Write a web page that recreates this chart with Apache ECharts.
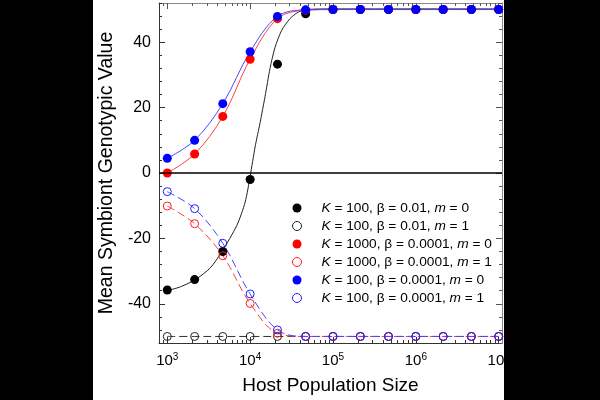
<!DOCTYPE html>
<html>
<head>
<meta charset="utf-8">
<script src="https://cdn.jsdelivr.net/npm/echarts@6/dist/echarts.min.js"></script>
<style>
  html, body { margin: 0; padding: 0; background: #fff; }
  #chart { width: 600px; height: 400px; }
</style>
</head>
<body>
<div id="chart"></div>
<script>
  // x values are log10(host population size)
  var logSize = [3, 3.33, 3.67, 4, 4.33, 4.67, 5, 5.33, 5.67, 6, 6.33, 6.67, 7];

  var seriesNames = [
    'K = 100, β = 0.01, m = 0',
    'K = 100, β = 0.01, m = 1',
    'K = 1000, β = 0.0001, m = 0',
    'K = 1000, β = 0.0001, m = 1',
    'K = 100, β = 0.0001, m = 0',
    'K = 100, β = 0.0001, m = 1'
  ];

  var blackFilled = [-35.8, -32.6, -24, -2, 33.3, 48.7, 50, 50, 50, 50, 50, 50, 50];
  var blackOpen   = [-50, -50, -50, -50, -50, -50, -50, -50, -50, -50, -50, -50, -50];
  var redFilled   = [0, 5.8, 17.3, 34.8, 47.2, 49.8, 50, 50, 50, 50, 50, 50, 50];
  var redOpen     = [-10.1, -15.5, -25.3, -39.9, -49, -50, -50, -50, -50, -50, -50, -50, -50];
  var blueFilled  = [4.5, 10, 21.2, 37.1, 47.9, 49.9, 50, 50, 50, 50, 50, 50, 50];
  var blueOpen    = [-5.7, -10.9, -21.5, -37, -48, -50, -50, -50, -50, -50, -50, -50, -50];

  // fitted curve for the black filled points
  var blackFitX = [3, 3.16, 3.34, 3.52, 3.66, 3.84, 3.94, 4.0, 4.06, 4.12, 4.18, 4.24, 4.30, 4.38, 4.48, 4.58, 4.68, 5, 6, 7];
  var blackFitY = [-36, -34.8, -32.6, -29, -24, -16, -8.9, -1, 8, 15.4, 23.4, 32, 38.4, 43.6, 47.2, 49.2, 50, 50.2, 50.2, 50.2];

  var xLabelExp = [3, 4, 5, 6, 7];
  var yLabels = [-40, -20, 0, 20, 40];

  var minorX = [];
  for (var d = 2; d <= 6; d++) {
    for (var k = 2; k <= 9; k++) {
      var v = Math.log10(k * Math.pow(10, d));
      if (v > 2.91 && v < 7.04) minorX.push(v);
    }
  }

  function pairs(xs, ys) {
    return xs.map(function (x, i) { return [x, ys[i]]; });
  }

  var font = 'Liberation Sans, Arial, sans-serif';
  var xMin = 2.9, xMax = 7.04;

  function xAxisBase(pos, lineColor) {
    return {
      type: 'value', position: pos, min: xMin, max: xMax,
      axisLine: { show: lineColor != null, onZero: false, lineStyle: { color: lineColor || '#000', width: 1 } },
      axisLabel: { show: false },
      splitLine: { show: false },
      axisTick: { show: false }
    };
  }
  function yAxisBase(pos, lineColor) {
    return {
      type: 'value', position: pos, min: -52, max: 52, interval: 4,
      axisLine: { show: lineColor != null, onZero: false, lineStyle: { color: lineColor || '#000', width: 1 } },
      axisLabel: { show: false },
      splitLine: { show: false },
      axisTick: { show: false }
    };
  }

  var xAxes = [xAxisBase('bottom', '#333'), xAxisBase('bottom'), xAxisBase('top', '#888'), xAxisBase('top')];
  xAxes[0].axisTick = { show: true, inside: true, length: 6, customValues: xLabelExp, lineStyle: { color: '#333' } };
  xAxes[0].axisLabel = {
    show: true, customValues: xLabelExp, margin: 9,
    formatter: function (v) { return '{b|10}{s|' + Math.round(v) + '}'; },
    rich: {
      b: { fontSize: 15, fontFamily: font, color: '#000' },
      s: { fontSize: 10, fontFamily: font, color: '#000', padding: [0, 0, 7, 0] }
    }
  };
  xAxes[0].name = 'Host Population Size';
  xAxes[0].nameLocation = 'middle';
  xAxes[0].nameGap = 33;
  xAxes[0].nameTextStyle = { fontSize: 19, fontFamily: font, color: '#000' };
  xAxes[1].axisTick = { show: true, inside: true, length: 3, customValues: minorX, lineStyle: { color: '#333' } };
  xAxes[2].axisTick = { show: true, inside: true, length: 6, customValues: xLabelExp, lineStyle: { color: '#555' } };
  xAxes[3].axisTick = { show: true, inside: true, length: 3, customValues: minorX, lineStyle: { color: '#555' } };

  var yAxes = [yAxisBase('left', '#333'), yAxisBase('left'), yAxisBase('right', '#888'), yAxisBase('right')];
  yAxes[0].axisTick = { show: true, inside: true, length: 3, lineStyle: { color: '#333' } };
  yAxes[0].axisLabel = {
    show: true, customValues: yLabels, margin: 8,
    fontSize: 16, fontFamily: font, color: '#000'
  };
  yAxes[0].name = 'Mean Symbiont Genotypic Value';
  yAxes[0].nameLocation = 'middle';
  yAxes[0].nameGap = 39;
  yAxes[0].nameTextStyle = { fontSize: 19.5, fontFamily: font, color: '#000' };
  yAxes[1].axisTick = { show: true, inside: true, length: 6, customValues: yLabels, lineStyle: { color: '#333' } };
  yAxes[2].axisTick = { show: true, inside: true, length: 3, lineStyle: { color: '#555' } };
  yAxes[3].axisTick = { show: true, inside: true, length: 6, customValues: yLabels, lineStyle: { color: '#555' } };

  function fitLine(data, color, dashed, smooth) {
    return {
      type: 'line', data: data, showSymbol: false, smooth: smooth || 0.35,
      lineStyle: { color: color, width: 1, type: dashed ? [8, 4] : 'solid' },
      silent: true, z: 2
    };
  }
  function points(name, ys, color, open) {
    return {
      type: 'scatter', name: name, data: pairs(logSize, ys),
      symbol: 'circle', symbolSize: open ? 8 : 9,
      itemStyle: open
        ? { color: 'transparent', borderColor: color, borderWidth: 1, opacity: 1 }
        : { color: color, opacity: 1 },
      z: 3
    };
  }

  var blackCurve = fitLine(pairs(blackFitX, blackFitY), '#222', false, 0.25);
  blackCurve.markLine = {
    silent: true, symbol: 'none', label: { show: false },
    lineStyle: { color: '#000', width: 1.5, type: 'solid' },
    data: [{ yAxis: 0 }]
  };

  var option = {
    animation: false,
    backgroundColor: '#fff',
    grid: { left: 159, right: 98, top: 3, bottom: 53 },
    xAxis: xAxes,
    yAxis: yAxes,
    legend: {
      data: seriesNames,
      orient: 'vertical',
      left: 292, top: 201, padding: 0,
      icon: 'circle',
      itemWidth: 9, itemHeight: 9, itemGap: 4,
      itemStyle: { borderWidth: 1 },
      formatter: function (name) {
        return name.replace(/^K/, '{i|K}').replace('m =', '{i|m} =');
      },
      textStyle: {
        fontSize: 13.7, fontFamily: font, color: '#000', padding: [0, 0, 0, 15], lineHeight: 14,
        rich: { i: { fontSize: 13.7, fontFamily: font, fontStyle: 'italic', color: '#000' } }
      }
    },
    graphic: [
      { type: 'rect', shape: { x: 0, y: 0, width: 93, height: 400 }, style: { fill: '#000' }, z: 100 },
      { type: 'rect', shape: { x: 504, y: 0, width: 96, height: 400 }, style: { fill: '#000' }, z: 100 }
    ],
    series: [
      blackCurve,
      fitLine(pairs(logSize, blackOpen), '#333', true),
      fitLine(pairs(logSize, redFilled), '#ff4040', false),
      fitLine(pairs(logSize, redOpen), '#ff4040', true),
      fitLine(pairs(logSize, blueFilled), '#4848ff', false),
      fitLine(pairs(logSize, blueOpen), '#4848ff', true),
      points(seriesNames[0], blackFilled, '#000', false),
      points(seriesNames[1], blackOpen, '#222', true),
      points(seriesNames[2], redFilled, '#ff0000', false),
      points(seriesNames[3], redOpen, '#ff2020', true),
      points(seriesNames[4], blueFilled, '#0000ff', false),
      points(seriesNames[5], blueOpen, '#2020ff', true)
    ]
  };

  var myChart = echarts.init(document.getElementById('chart'));
  myChart.setOption(option);
</script>
</body>
</html>
